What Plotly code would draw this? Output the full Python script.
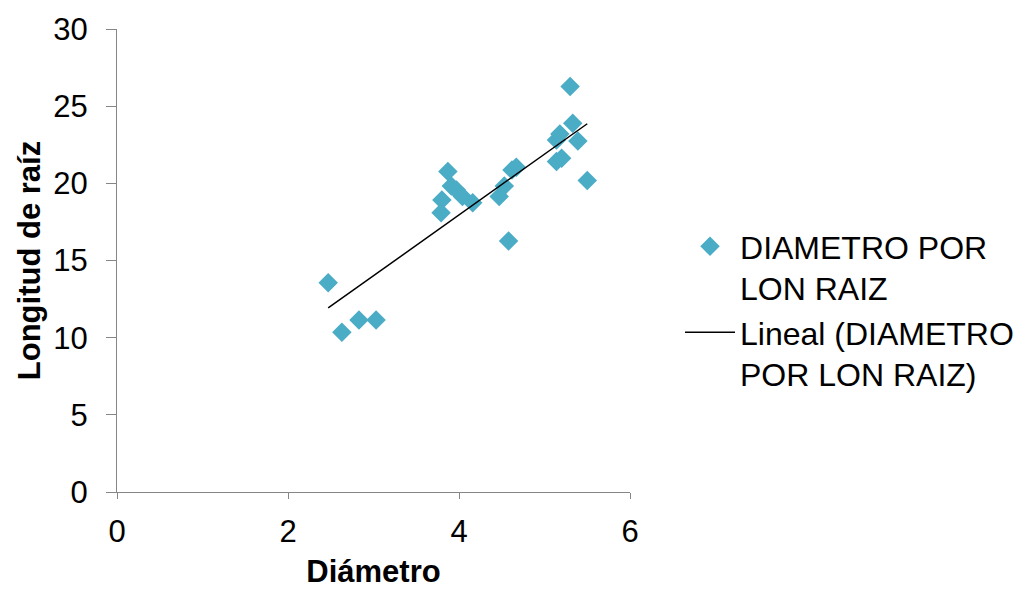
import numpy as np
import plotly.graph_objects as go

diametro = [2.47, 2.63, 2.83, 3.03, 3.80, 3.79, 3.87, 3.91, 3.97, 4.04, 4.16, 4.47,
            4.53, 4.58, 4.62, 4.67, 5.14, 5.20, 5.14, 5.18, 5.33, 5.39, 5.30, 5.50]
longitud = [13.56, 10.35, 11.15, 11.15, 18.92, 18.10, 20.76, 19.83, 19.57, 19.14, 18.75, 19.14,
            19.83, 16.27, 20.87, 21.04, 21.41, 21.63, 22.81, 23.20, 23.90, 22.75, 26.27, 20.18]

x_ticks = [0, 2, 4, 6]
y_ticks = [0, 5, 10, 15, 20, 25, 30]

slope, intercept = np.polyfit(diametro, longitud, 1)
fx = [min(diametro), max(diametro)]
fy = [slope * v + intercept for v in fx]

FONT = "Liberation Sans, Arial, sans-serif"
FS = 31

fig = go.Figure()
fig.add_trace(go.Scatter(
    x=diametro, y=longitud, mode="markers",
    name="DIAMETRO POR<br>LON RAIZ",
    marker=dict(symbol="diamond", size=15, color="#4BACC6", line=dict(width=0)),
))
fig.add_trace(go.Scatter(
    x=fx, y=fy, mode="lines",
    name="Lineal (DIAMETRO<br>POR LON RAIZ)",
    line=dict(color="black", width=1.5),
))

fig.update_layout(
    width=1017, height=589,
    margin=dict(l=117, r=387, t=29, b=97, autoexpand=False),
    paper_bgcolor="white", plot_bgcolor="white",
    font=dict(family=FONT, size=FS, color="black"),
    showlegend=True,
    legend=dict(x=1.0975, y=0.59, xanchor="left", yanchor="top",
                font=dict(size=32), valign="top", tracegroupgap=10,
                itemwidth=50, bgcolor="rgba(0,0,0,0)"),
)
fig.update_xaxes(
    range=[0, 6], tickvals=x_ticks, showgrid=False, zeroline=False,
    showline=True, linecolor="#868686", linewidth=1, automargin=False,
    ticks="outside", ticklen=6, tickcolor="#868686",
    tickfont=dict(size=FS), ticklabelstandoff=6,
    title=dict(text="<b>Diámetro</b>", font=dict(size=FS), standoff=12),
)
fig.update_yaxes(
    range=[0, 30], tickvals=y_ticks, showgrid=False, zeroline=False,
    showline=True, linecolor="#868686", linewidth=1, automargin=False,
    ticks="outside", ticklen=10, tickcolor="#868686",
    tickfont=dict(size=FS), ticklabelstandoff=12,
    title=dict(text="<b>Longitud de raíz</b>", font=dict(size=FS), standoff=3),
)

fig.write_html("out.html")
